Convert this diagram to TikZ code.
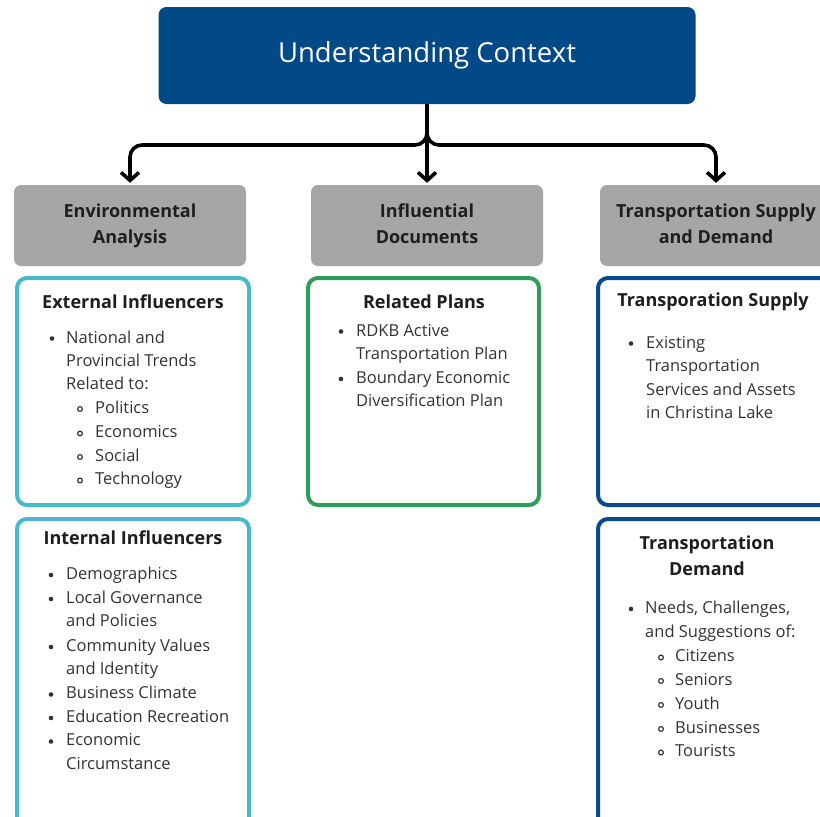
\documentclass[tikz,border=0pt]{standalone}
\usepackage{fontspec}
\setmainfont{Open Sans}
\usetikzlibrary{arrows.meta}
\definecolor{navy}{HTML}{024A87}
\definecolor{boxgray}{HTML}{A6A6A6}
\definecolor{cyanline}{HTML}{4AB8CB}
\definecolor{greenline}{HTML}{2F9C57}
\definecolor{blueline}{HTML}{0A4A8A}
\definecolor{headtxt}{HTML}{1E1E1E}
\definecolor{bodytxt}{HTML}{333333}
\tikzset{
  graybox/.style={fill=boxgray, rounded corners=7pt, minimum width=232pt, minimum height=81pt,
    align=center, font=\fontsize{18}{26}\selectfont\bfseries, text=headtxt, inner sep=0pt},
  panel/.style={draw, line width=4pt, rounded corners=10pt, fill=white, inner sep=0pt},
  head/.style={font=\fontsize{18}{26}\selectfont\bfseries, text=headtxt, inner sep=0pt, align=center},
  txt/.style={anchor=base west, font=\fontsize{16.5}{20}\selectfont, text=bodytxt, inner sep=0pt},
  conn/.style={line width=3.6pt, rounded corners=12pt, -{Straight Barb[length=8pt,width=18pt]}, shorten >=2pt},
  dotb/.style={fill=bodytxt},
  ringb/.style={draw=bodytxt, line width=1.2pt}
}
\begin{document}
\begin{tikzpicture}[x=1pt,y=-1pt]
\useasboundingbox (0,0) rectangle (820,817);
\clip (0,0) rectangle (820,817);
\fill[white] (0,0) rectangle (820,817);

% top box
\node[fill=navy, rounded corners=8pt, minimum width=537pt, minimum height=97pt, inner sep=0pt,
  text=white, font=\fontsize{27.5}{30}\selectfont] (top) at (427,55.5) {Understanding Context};

% gray headers
\node[graybox] (env) at (130,225.5) {\strut Environmental\\\strut Analysis};
\node[graybox] (inf) at (427,225.5) {\strut Influential\\\strut Documents};
\node[graybox] (trs) at (716,225.5) {\strut Transportation Supply\\\strut and Demand};

% connectors
\coordinate (hub) at (427,145);
\draw[conn] (top.south) |- (env.north |- hub) -- (env.north);
\draw[conn] (top.south) -- (inf.north);
\draw[conn] (top.south) |- (trs.north |- hub) -- (trs.north);

% panels
\node[panel, draw=cyanline, minimum width=232pt, minimum height=227pt] (ext) at (133,391.5) {};
\node[panel, draw=cyanline, minimum width=232pt, minimum height=321pt] (int) at (133,679.5) {};
\node[panel, draw=greenline, minimum width=231pt, minimum height=227pt] (rel) at (423.5,391.5) {};
\node[panel, draw=blueline, minimum width=236pt, minimum height=227pt] (sup) at (716,391.5) {};
\node[panel, draw=blueline, minimum width=236pt, minimum height=321pt] (dem) at (716,679.5) {};

% External Influencers
\node[head] (exth) at (133,302) {External Influencers};
\fill[dotb] (52,338.5) circle (2.3pt);
\node[txt] (ext1) at (66,343) {National and};
\node[txt] (ext2) at (66,366) {Provincial Trends};
\node[txt] (ext3) at (66,389.5) {Related to:};
\draw[ringb] (80,409) circle (2.4pt);
\node[txt] (ext4) at (95,413) {Politics};
\draw[ringb] (80,433.5) circle (2.4pt);
\node[txt] (ext5) at (95,437.5) {Economics};
\draw[ringb] (80,457) circle (2.4pt);
\node[txt] (ext6) at (95,461) {Social};
\draw[ringb] (80,480.5) circle (2.4pt);
\node[txt] (ext7) at (95,484.5) {Technology};

% Internal Influencers
\node[head] (inth) at (133,538) {Internal Influencers};
\fill[dotb] (51,575) circle (2.3pt);
\node[txt] (int1) at (66,579) {Demographics};
\fill[dotb] (51,599) circle (2.3pt);
\node[txt] (int2) at (66,603) {Local Governance};
\node[txt] (int3) at (66,626.5) {and Policies};
\fill[dotb] (51,647) circle (2.3pt);
\node[txt] (int4) at (66,651) {Community Values};
\node[txt] (int5) at (66,674.5) {and Identity};
\fill[dotb] (51,694.5) circle (2.3pt);
\node[txt] (int6) at (66,698.5) {Business Climate};
\fill[dotb] (51,718) circle (2.3pt);
\node[txt] (int7) at (66,722) {Education Recreation};
\fill[dotb] (51,741.5) circle (2.3pt);
\node[txt] (int8) at (66,745.5) {Economic};
\node[txt] (int9) at (66,769) {Circumstance};

% Related Plans
\node[head] (relh) at (424,302) {Related Plans};
\fill[dotb] (341,331.5) circle (2.3pt);
\node[txt] (rel1) at (356,336) {RDKB Active};
\node[txt] (rel2) at (356,359.5) {Transportation Plan};
\fill[dotb] (341,379) circle (2.3pt);
\node[txt] (rel3) at (356,383) {Boundary Economic};
\node[txt] (rel4) at (356,406.5) {Diversification Plan};

% Transporation Supply
\node[head] (suph) at (713,302) {Transporation Supply};
\fill[dotb] (631,343.5) circle (2.3pt);
\node[txt] (sup1) at (646,348) {Existing};
\node[txt] (sup2) at (646,371.5) {Transportation};
\node[txt] (sup3) at (646,395) {Services and Assets};
\node[txt] (sup4) at (646,418.5) {in Christina Lake};

% Transportation Demand
\node[head] (demh) at (707,557) {\strut Transportation\\\strut Demand};
\fill[dotb] (631,609) circle (2.3pt);
\node[txt] (dem1) at (645,613) {Needs, Challenges,};
\node[txt] (dem2) at (645,637) {and Suggestions of:};
\draw[ringb] (661,657.5) circle (2.4pt);
\node[txt] (dem3) at (675,661.5) {Citizens};
\draw[ringb] (661,681) circle (2.4pt);
\node[txt] (dem4) at (675,685) {Seniors};
\draw[ringb] (661,705) circle (2.4pt);
\node[txt] (dem5) at (675,709) {Youth};
\draw[ringb] (661,729) circle (2.4pt);
\node[txt] (dem6) at (675,733) {Businesses};
\draw[ringb] (661,752.5) circle (2.4pt);
\node[txt] (dem7) at (675,756.5) {Tourists};
\end{tikzpicture}
\end{document}
